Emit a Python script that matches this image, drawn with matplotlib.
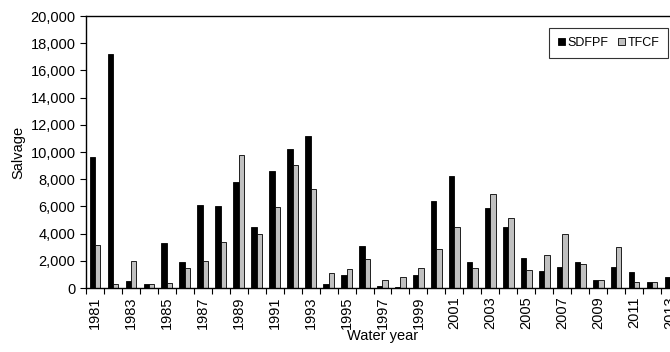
import numpy as np
import matplotlib
matplotlib.use("Agg")
import matplotlib.pyplot as plt
from matplotlib.ticker import FuncFormatter

plt.rcParams["font.family"] = ["Liberation Sans", "DejaVu Sans"]

# ── Data ──────────────────────────────────────────────────────────────────────
years = list(range(1981, 2014))
sdfpf = [9650, 17230, 540, 320, 3330, 1930, 6100, 6030, 7770, 4510, 8580,
         10200, 11200, 320, 980, 3110, 170, 50, 980, 6400, 8240, 1930,
         5880, 4510, 2180, 1230, 1520, 1890, 610, 1520, 1150, 420, 790]
tfcf = [3150, 270, 1950, 320, 390, 1450, 1950, 3400, 9750, 3970, 5960,
        9020, 7260, 1130, 1370, 2160, 610, 830, 1450, 2890, 4490, 1490,
        6910, 5150, 1300, 2450, 3970, 1790, 610, 3040, 420, 420, 540]

fig = plt.figure(figsize=(6.7, 3.52), dpi=100)
ax = fig.add_axes([86 / 670, 64 / 352, 593 / 670, 272 / 352])

x = np.arange(len(years))
w = 0.3
ax.bar(x - w / 2, sdfpf, w, color="black", edgecolor="black", lw=0.6, label="SDFPF")
ax.bar(x + w / 2, tfcf, w, color="#c0c0c0", edgecolor="black", lw=0.6, label="TFCF")

ax.set_xlim(-0.5, len(years) - 0.5)
ax.set_ylim(0, 20000)
ax.set_yticks(np.arange(0, 20001, 2000))
ax.yaxis.set_major_formatter(FuncFormatter(lambda v, p: f"{int(v):,}"))

ax.set_xticks(x[::2])
ax.set_xticklabels([str(y) for y in years[::2]], rotation=90)
ax.set_xticks(np.arange(-0.5, len(years), 1), minor=True)
ax.tick_params(axis="x", which="major", length=0, pad=6, labelsize=10.5)
ax.tick_params(axis="x", which="minor", length=4, direction="out", width=0.8)
ax.tick_params(axis="y", length=4, direction="out", width=0.8, labelsize=10.5)

for s in ax.spines.values():
    s.set_linewidth(1.0)

ax.set_ylabel("Salvage", fontsize=10.5, labelpad=4)
ax.set_xlabel("Water year", fontsize=10.5, labelpad=0)

leg = ax.legend(loc="upper right", bbox_to_anchor=((668 - 86) / 593, 1 - 12 / 272),
                ncol=2, frameon=True, fancybox=False, fontsize=9,
                handlelength=0.55, handleheight=0.55, handletextpad=0.2,
                columnspacing=0.8, borderpad=0.7, borderaxespad=0)
leg.get_frame().set_edgecolor("black")
leg.get_frame().set_linewidth(0.8)

fig.savefig("out.png", dpi=100)
